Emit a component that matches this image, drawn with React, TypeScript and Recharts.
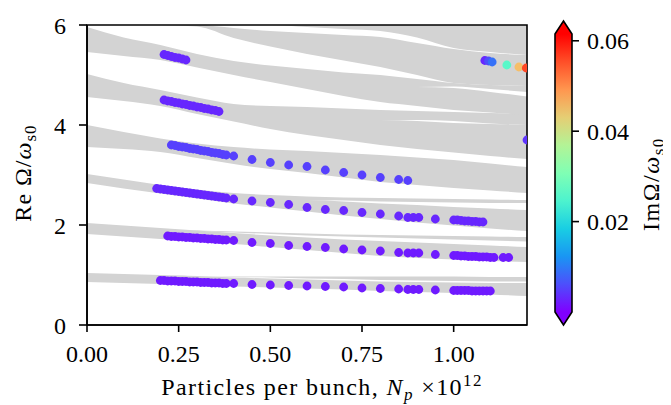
import React from "react";
import { ComposedChart, Area, Scatter, XAxis, YAxis, ReferenceArea, Label } from "recharts";

const FONT = '"Liberation Serif", "Times New Roman", serif';
const GRAY = "#d3d3d3";
const IM_MAX = 0.0615;

// x nodes where the stable-region band edges are sampled
const bandX = [0, 0.1, 0.2, 0.3, 0.4, 0.5, 0.6, 0.7, 0.8, 0.9, 1.0, 1.1, 1.2];

const band1Lo = [0.86, 0.84, 0.82, 0.8, 0.77, 0.75, 0.73, 0.71, 0.68, 0.66, 0.64, 0.61, 0.58];
const band1Hi = [1.04, 1.02, 1.0, 0.98, 0.95, 0.93, 0.91, 0.89, 0.87, 0.86, 0.85, 0.84, 0.84];
const band1bLo = [1.0, 1.0, 1.0, 0.97, 0.96, 0.95, 0.93, 0.92, 0.9, 0.89, 0.88, 0.87, 0.87];
const band1bHi = [1.0, 1.0, 1.0, 0.97, 0.97, 0.97, 0.97, 0.97, 0.97, 0.97, 0.97, 0.96, 0.96];
const band2Lo = [1.82, 1.77, 1.72, 1.67, 1.62, 1.56, 1.5, 1.44, 1.38, 1.34, 1.31, 1.28, 1.26];
const band2Hi = [2.04, 1.99, 1.94, 1.89, 1.84, 1.79, 1.75, 1.71, 1.68, 1.65, 1.62, 1.59, 1.56];
const band2bLo = [1.9, 1.9, 1.9, 1.88, 1.85, 1.82, 1.79, 1.77, 1.75, 1.73, 1.71, 1.69, 1.67];
const band2bHi = [1.9, 1.9, 1.9, 1.89, 1.87, 1.85, 1.83, 1.81, 1.8, 1.79, 1.78, 1.77, 1.76];
const band3Lo = [2.84, 2.73, 2.63, 2.53, 2.43, 2.35, 2.27, 2.19, 2.12, 2.05, 1.99, 1.93, 1.88];
const band3Hi = [3.02, 2.91, 2.8, 2.71, 2.64, 2.6, 2.57, 2.55, 2.54, 2.53, 2.52, 2.51, 2.5];
const band4Lo = [3.56, 3.52, 3.46, 3.34, 3.22, 3.12, 3.04, 2.95, 2.86, 2.8, 2.74, 2.69, 2.64];
const band4Hi = [4.0, 3.86, 3.73, 3.63, 3.56, 3.51, 3.48, 3.44, 3.4, 3.35, 3.3, 3.23, 3.16];
const band5Lo = [4.56, 4.48, 4.38, 4.22, 4.07, 3.92, 3.8, 3.7, 3.6, 3.52, 3.45, 3.38, 3.32];
const band5Hi = [5.02, 4.84, 4.7, 4.55, 4.42, 4.38, 4.36, 4.33, 4.3, 4.28, 4.26, 4.24, 4.22];
const band6Lo = [5.46, 5.38, 5.3, 5.15, 5.0, 4.86, 4.72, 4.58, 4.46, 4.38, 4.3, 4.25, 4.2];
const band6Hi = [5.96, 5.75, 5.6, 5.42, 5.28, 5.19, 5.12, 5.05, 5.0, 4.92, 4.84, 4.8, 4.78];
const band7Lo = [6, 6, 6, 5.97, 5.74, 5.57, 5.42, 5.29, 5.16, 5.0, 4.84, 4.8, 4.78];
const band7Hi = [6, 6, 6, 6, 5.94, 5.88, 5.84, 5.8, 5.76, 5.64, 5.52, 5.44, 5.4];
const band8Lo = [6, 6, 6, 6, 6, 6, 5.96, 5.92, 5.88, 5.75, 5.54, 5.46, 5.4];
const band8Hi = [6, 6, 6, 6, 6, 6, 6, 6, 6, 6, 6, 6, 6];

// thin white gaps inside the merged bands on the right
const gapALo = [4.76, 4.76, 4.76, 4.76, 4.76, 4.76, 4.76, 4.76, 4.76, 4.76, 4.74, 4.66, 4.57];
const gapAHi = [4.76, 4.76, 4.76, 4.76, 4.76, 4.76, 4.76, 4.76, 4.76, 4.76, 4.77, 4.72, 4.66];
const gapBLo = [4.1, 4.1, 4.1, 4.1, 4.1, 4.1, 4.1, 4.1, 4.1, 4.08, 4.04, 4.02, 4.0];
const gapBHi = [4.1, 4.1, 4.1, 4.1, 4.1, 4.1, 4.1, 4.1, 4.1, 4.1, 4.08, 4.03, 4.0];
const gapCLo = [2.5, 2.5, 2.5, 2.5, 2.5, 2.5, 2.5, 2.47, 2.43, 2.4, 2.36, 2.33, 2.3];
const gapCHi = [2.5, 2.5, 2.5, 2.5, 2.5, 2.5, 2.5, 2.49, 2.47, 2.46, 2.45, 2.44, 2.44];

// eigenmodes: Np (x1e12), Re Omega / omega_s0, Im Omega / omega_s0
const mode1X = [0.2, 0.21, 0.22, 0.23, 0.24, 0.25, 0.26, 0.27, 0.28, 0.29, 0.3, 0.31, 0.32, 0.33, 0.34, 0.35, 0.36, 0.37, 0.38,
  0.4, 0.45, 0.5, 0.55, 0.6, 0.65, 0.7, 0.75, 0.8, 0.85, 0.875, 0.89, 0.905, 0.95,
  1.0, 1.01, 1.02, 1.03, 1.04, 1.05, 1.06, 1.07, 1.08, 1.09, 1.1];
const mode1Y = [0.89, 0.89, 0.88, 0.88, 0.88, 0.87, 0.87, 0.87, 0.86, 0.86, 0.86, 0.85, 0.85, 0.85, 0.84, 0.84, 0.84, 0.83, 0.83,
  0.83, 0.81, 0.8, 0.79, 0.78, 0.77, 0.76, 0.74, 0.73, 0.72, 0.71, 0.71, 0.71, 0.7,
  0.69, 0.69, 0.69, 0.69, 0.69, 0.68, 0.68, 0.68, 0.68, 0.68, 0.68];
const mode2X = [0.22, 0.23, 0.24, 0.25, 0.26, 0.27, 0.28, 0.29, 0.3, 0.31, 0.32, 0.33, 0.34, 0.35, 0.36, 0.37, 0.38,
  0.4, 0.45, 0.5, 0.55, 0.6, 0.65, 0.7, 0.75, 0.8, 0.85, 0.875, 0.89, 0.905, 0.95,
  1.0, 1.01, 1.02, 1.03, 1.04, 1.05, 1.06, 1.07, 1.08, 1.09, 1.1, 1.11, 1.135, 1.15];
const mode2Y = [1.78, 1.77, 1.77, 1.76, 1.76, 1.75, 1.75, 1.74, 1.74, 1.73, 1.73, 1.72, 1.72, 1.71, 1.71, 1.7, 1.7,
  1.69, 1.65, 1.63, 1.59, 1.57, 1.55, 1.52, 1.5, 1.48, 1.45, 1.44, 1.44, 1.44, 1.41,
  1.39, 1.39, 1.38, 1.38, 1.37, 1.37, 1.37, 1.36, 1.36, 1.36, 1.35, 1.35, 1.35, 1.35];
const mode3X = [0.19, 0.2, 0.21, 0.22, 0.23, 0.24, 0.25, 0.26, 0.27, 0.28, 0.29, 0.3, 0.31, 0.32, 0.33, 0.34, 0.35, 0.36, 0.37, 0.38,
  0.4, 0.45, 0.5, 0.55, 0.6, 0.65, 0.7, 0.75, 0.8, 0.85, 0.875, 0.89, 0.905, 0.95,
  1.0, 1.01, 1.02, 1.03, 1.04, 1.05, 1.06, 1.07, 1.08];
const mode3Y = [2.73, 2.72, 2.71, 2.7, 2.69, 2.68, 2.67, 2.66, 2.65, 2.64, 2.63, 2.62, 2.61, 2.6, 2.59, 2.58, 2.57, 2.56, 2.55, 2.54,
  2.52, 2.48, 2.45, 2.41, 2.35, 2.31, 2.29, 2.25, 2.22, 2.18, 2.15, 2.15, 2.15, 2.12,
  2.1, 2.1, 2.09, 2.08, 2.08, 2.07, 2.07, 2.06, 2.06];
const mode4X = [0.23, 0.24, 0.25, 0.26, 0.27, 0.28, 0.29, 0.3, 0.31, 0.32, 0.33, 0.34, 0.35, 0.36, 0.37, 0.38,
  0.4, 0.45, 0.5, 0.55, 0.6, 0.65, 0.7, 0.75, 0.8, 0.85, 0.875];
const mode4Y = [3.6, 3.59, 3.57, 3.56, 3.55, 3.53, 3.52, 3.51, 3.49, 3.48, 3.47, 3.45, 3.44, 3.43, 3.41, 3.4,
  3.38, 3.31, 3.25, 3.2, 3.17, 3.1, 3.05, 3.0, 2.95, 2.91, 2.89];
const mode5X = [0.21, 0.22, 0.23, 0.24, 0.25, 0.26, 0.27, 0.28, 0.29, 0.3, 0.31, 0.32, 0.33, 0.34, 0.35, 0.36];
const mode5Y = [4.5, 4.48, 4.47, 4.45, 4.44, 4.42, 4.41, 4.39, 4.38, 4.36, 4.35, 4.33, 4.32, 4.3, 4.29, 4.27];
const mode6X = [0.21, 0.22, 0.23, 0.24, 0.25, 0.26, 0.27];
const mode6Y = [5.41, 5.39, 5.37, 5.35, 5.34, 5.32, 5.3];
const mode7X = [1.085, 1.095, 1.105, 1.145, 1.178, 1.198];
const mode7Y = [5.29, 5.28, 5.26, 5.2, 5.16, 5.14];
const mode7Im = [0.003, 0.006, 0.009, 0.026, 0.045, 0.056];
const mode8X = [1.2];
const mode8Y = [3.7];

const xTicks = [0, 0.25, 0.5, 0.75, 1.0];
const yTicks = [0, 2, 4, 6];
const cbTicks = [0.02, 0.04, 0.06];

// matplotlib "rainbow" colormap
function rainbow(t: number) {
  const c = Math.min(1, Math.max(0, t));
  const r = Math.min(1, Math.abs(2 * c - 0.5));
  const g = Math.sin(Math.PI * c);
  const b = Math.cos((Math.PI / 2) * c);
  return `rgb(${Math.round(r * 255)},${Math.round(g * 255)},${Math.round(b * 255)})`;
}
const imColor = (im: number) => rainbow(im / IM_MAX);

const bands = [
  { key: "b1", lo: band1Lo, hi: band1Hi, fill: GRAY },
  { key: "b1b", lo: band1bLo, hi: band1bHi, fill: GRAY },
  { key: "b2", lo: band2Lo, hi: band2Hi, fill: GRAY },
  { key: "b2b", lo: band2bLo, hi: band2bHi, fill: GRAY },
  { key: "b3", lo: band3Lo, hi: band3Hi, fill: GRAY },
  { key: "b4", lo: band4Lo, hi: band4Hi, fill: GRAY },
  { key: "b5", lo: band5Lo, hi: band5Hi, fill: GRAY },
  { key: "b6", lo: band6Lo, hi: band6Hi, fill: GRAY },
  { key: "b7", lo: band7Lo, hi: band7Hi, fill: GRAY },
  { key: "b8", lo: band8Lo, hi: band8Hi, fill: GRAY },
  { key: "gA", lo: gapALo, hi: gapAHi, fill: "#ffffff" },
  { key: "gB", lo: gapBLo, hi: gapBHi, fill: "#ffffff" },
  { key: "gC", lo: gapCLo, hi: gapCHi, fill: "#ffffff" },
];

const bandTable = bandX.map((x, i) => {
  const row: Record<string, number | number[]> = { x };
  bands.forEach((b) => {
    row[b.key] = [b.lo[i], b.hi[i]];
  });
  return row;
});

const modes = [
  { xs: mode1X, ys: mode1Y, im: 0.002 },
  { xs: mode2X, ys: mode2Y, im: 0.002 },
  { xs: mode3X, ys: mode3Y, im: 0.003 },
  { xs: mode4X, ys: mode4Y, im: 0.005 },
  { xs: mode5X, ys: mode5Y, im: 0.003 },
  { xs: mode6X, ys: mode6Y, im: 0.003 },
  { xs: mode7X, ys: mode7Y, im: mode7Im },
  { xs: mode8X, ys: mode8Y, im: 0.004 },
].map((m) =>
  m.xs.map((x, i) => ({ x, y: m.ys[i], im: Array.isArray(m.im) ? m.im[i] : m.im }))
);

// colorbar body: one ranged strip over the whole colour range
const cbData = [
  { x: 0, v: [0, IM_MAX] },
  { x: 1, v: [0, IM_MAX] },
];

const Dot = (p: any) => <circle cx={p.cx} cy={p.cy} r={4.4} fill={imColor(p.payload.im)} />;

const tickStyle = { fill: "#000", fontSize: 24, fontFamily: FONT };

const XTitle = (props: any) => {
  const { x, y, width } = props.viewBox;
  return (
    <text x={x + width / 2 + 15} y={y + 70} textAnchor="middle" fontFamily={FONT} fontSize={24} fill="#000" letterSpacing={1.4}>
      Particles per bunch,{" "}
      <tspan fontStyle="italic">N</tspan>
      <tspan fontStyle="italic" fontSize={17} dy={5}>p</tspan>
      <tspan dy={-5}> ×10</tspan>
      <tspan fontSize={17} dy={-9}>12</tspan>
    </text>
  );
};

const YTitle = (props: any) => {
  const { y, height } = props.viewBox;
  const cx = 23;
  const cy = y + height / 2 - 2;
  return (
    <text x={cx} y={cy} transform={`rotate(-90, ${cx}, ${cy})`} textAnchor="middle" fontFamily={FONT} fontSize={24} fill="#000" letterSpacing={1}>
      Re Ω/<tspan fontStyle="italic">ω</tspan>
      <tspan fontSize={17} dy={5}>s0</tspan>
    </text>
  );
};

const CbTitle = (props: any) => {
  const { y } = props.viewBox;
  const cx = 111;
  const cy = y + 150;
  return (
    <text x={cx} y={cy} transform={`rotate(-90, ${cx}, ${cy})`} textAnchor="middle" fontFamily={FONT} fontSize={24} fill="#000" letterSpacing={1.5}>
      ImΩ/<tspan fontStyle="italic">ω</tspan>
      <tspan fontSize={17} dy={5}>s0</tspan>
    </text>
  );
};

const gradStops = [0, 0.1, 0.2, 0.3, 0.4, 0.5, 0.6, 0.7, 0.8, 0.9, 1];

// extend triangles and outline of the colorbar
const ColorbarFrame = (p: any) => {
  const { x, y, width: w, height: h } = p;
  const tri = 13;
  return (
    <g>
      <polygon points={`${x},${y} ${x + w / 2},${y - tri} ${x + w},${y}`} fill={rainbow(1)} />
      <polygon points={`${x},${y + h} ${x + w / 2},${y + h + tri} ${x + w},${y + h}`} fill={rainbow(0)} />
      <path
        d={`M${x},${y} L${x + w / 2},${y - tri} L${x + w},${y} L${x + w},${y + h} L${x + w / 2},${y + h + tri} L${x},${y + h} Z`}
        fill="none"
        stroke="#000"
        strokeWidth={1.6}
      />
    </g>
  );
};

export default function App() {
  return (
    <div style={{ position: "relative", width: 663, height: 397 }}>
      <svg width={0} height={0} style={{ position: "absolute" }}>
        <defs>
          <linearGradient id="cbGrad" x1="0" y1="1" x2="0" y2="0">
            {gradStops.map((s) => (
              <stop key={s} offset={s} stopColor={rainbow(s)} />
            ))}
          </linearGradient>
        </defs>
      </svg>
      <div
        style={{
          position: "absolute",
          left: -2,
          top: -2,
          width: 665,
          height: 399,
          borderLeft: "1px solid #d9d9d9",
          borderTop: "1px solid #d9d9d9",
        }}
      />
      <div style={{ position: "absolute", left: 0, top: 0 }}>
        <ComposedChart width={540} height={397} data={bandTable} margin={{ top: 17, right: 21, bottom: 12, left: 0 }}>
          <XAxis
            dataKey="x"
            type="number"
            domain={[0, 1.2]}
            ticks={xTicks}
            tickFormatter={(v: number) => v.toFixed(2)}
            allowDataOverflow
            height={68}
            stroke="#000"
            strokeWidth={1.6}
            tickSize={7}
            tickMargin={13}
            tick={tickStyle}
          >
            <Label content={XTitle} />
          </XAxis>
          <YAxis
            type="number"
            domain={[0, 6]}
            ticks={yTicks}
            allowDataOverflow
            width={79}
            stroke="#000"
            strokeWidth={1.6}
            tickSize={8}
            tickMargin={13}
            tick={tickStyle}
          >
            <Label content={YTitle} />
          </YAxis>
          {bands.map((b) => (
            <Area
              key={b.key}
              dataKey={b.key}
              type="monotone"
              fill={b.fill}
              fillOpacity={1}
              stroke="none"
              isAnimationActive={false}
              activeDot={false}
            />
          ))}
          {modes.map((pts, i) => (
            <Scatter key={i} data={pts} dataKey="y" shape={Dot} isAnimationActive={false} />
          ))}
          <ReferenceArea x1={0} x2={1.2} y1={0} y2={6} fill="none" stroke="#000" strokeWidth={1.6} />
        </ComposedChart>
      </div>
      <div style={{ position: "absolute", left: 540, top: 0 }}>
        <ComposedChart width={123} height={392} data={cbData} margin={{ top: 26, right: 0, bottom: 88, left: 7 }}>
          <XAxis dataKey="x" type="number" domain={[0, 1]} hide />
          <YAxis
            orientation="right"
            type="number"
            domain={[0, IM_MAX]}
            ticks={cbTicks}
            tickFormatter={(v: number) => v.toFixed(2)}
            width={99}
            axisLine={false}
            tickLine={{ stroke: "#000", strokeWidth: 1.6 }}
            tickSize={7}
            tickMargin={8}
            tick={tickStyle}
          >
            <Label content={CbTitle} />
          </YAxis>
          <Area
            dataKey="v"
            type="linear"
            fill="url(#cbGrad)"
            fillOpacity={1}
            stroke="none"
            isAnimationActive={false}
            activeDot={false}
          />
          <ReferenceArea x1={0} x2={1} y1={0} y2={IM_MAX} shape={ColorbarFrame} />
        </ComposedChart>
      </div>
    </div>
  );
}
